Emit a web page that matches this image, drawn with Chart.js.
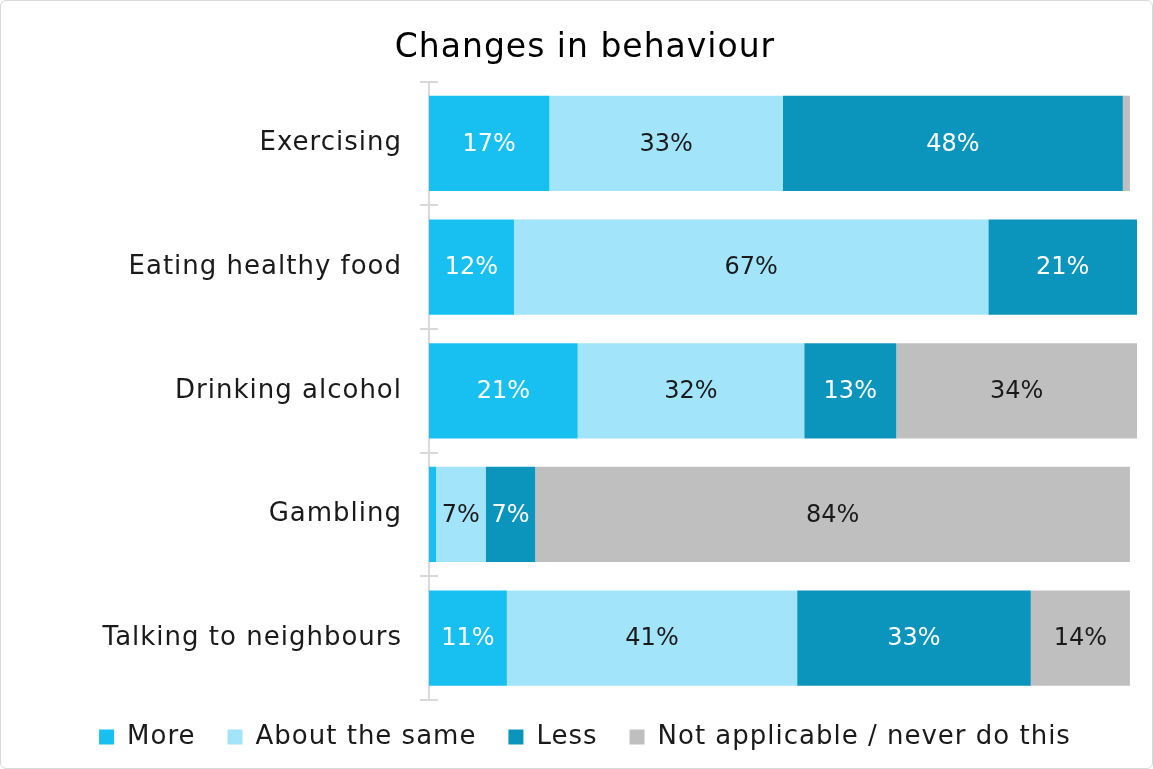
<!DOCTYPE html>
<html>
<head>
<meta charset="utf-8">
<script src="https://cdn.jsdelivr.net/npm/chart.js@4/dist/chart.umd.min.js"></script>
<style>
  html, body { margin: 0; padding: 0; background: #fff; }
  #wrap {
    width: 1151px; height: 767px;
    border: 1px solid #d9d9d9; border-radius: 6px;
    position: relative; overflow: hidden;
  }
</style>
</head>
<body>
<div id="wrap"><canvas id="chart"></canvas></div>
<script>
// categories and series (percent)
var categories   = ['Exercising', 'Eating healthy food', 'Drinking alcohol', 'Gambling', 'Talking to neighbours'];
var seriesNames  = ['More', 'About the same', 'Less', 'Not applicable / never do this'];
var moreVals     = [17, 12, 21, 1, 11];
var sameVals     = [33, 67, 32, 7, 41];
var lessVals     = [48, 21, 13, 7, 33];
var naVals       = [1, 0.2, 34, 84, 14];

var COLORS = {
  more: '#17c0f1',
  same: '#a2e5fa',
  less: '#0b94bc',
  na:   '#bfbfbf',
  axis: '#d9d9d9',
  text: '#1a1a1a'
};
var FONT = 'DejaVu Sans, sans-serif';
var LEGEND_PAD = 32;

// wider text, closer to the original typeface
var spacing = {
  id: 'spacing',
  beforeInit: function(chart) { chart.ctx.letterSpacing = '1px'; },
  afterInit: function(chart) {
    // keep the legend short even with wide horizontal padding
    var lg = chart.legend;
    var fit = lg.fit;
    lg.fit = function() { fit.apply(this, arguments); this.height = 58; };
  },
  beforeUpdate: function(chart) { chart.ctx.letterSpacing = '1px'; },
  beforeDraw: function(chart) {
    chart.ctx.letterSpacing = '1px';
    var lg = chart.legend;
    lg.top = chart.chartArea.bottom + 24 - LEGEND_PAD;
  }
};

// draws the % inside each segment
var barLabels = {
  id: 'barLabels',
  afterDatasetsDraw: function(chart) {
    var ctx = chart.ctx;
    ctx.save();
    ctx.letterSpacing = '0px';
    ctx.font = '24px ' + FONT;
    ctx.textAlign = 'center';
    ctx.textBaseline = 'middle';
    chart.data.datasets.forEach(function(ds, di) {
      var meta = chart.getDatasetMeta(di);
      meta.data.forEach(function(bar, i) {
        var v = ds.data[i];
        if (v < 5) return;
        var x = (bar.x + bar.base) / 2;
        ctx.fillStyle = ds.labelColor;
        ctx.fillText(Math.round(v) + '%', x, bar.y + 1);
      });
    });
    ctx.restore();
  }
};

// small tick stubs to the right of the axis line
var axisStubs = {
  id: 'axisStubs',
  afterDraw: function(chart) {
    var y = chart.scales.y, ctx = chart.ctx;
    var n = categories.length;
    var band = (y.bottom - y.top) / n;
    ctx.save();
    ctx.strokeStyle = COLORS.axis;
    ctx.lineWidth = 2;
    for (var i = 0; i <= n; i++) {
      var py = Math.round(y.top + band * i);
      ctx.beginPath();
      ctx.moveTo(y.right, py);
      ctx.lineTo(y.right + 9, py);
      ctx.stroke();
    }
    ctx.restore();
  }
};

new Chart(document.getElementById('chart'), {
  type: 'bar',
  data: {
    labels: categories,
    datasets: [
      { label: seriesNames[0], data: moreVals, backgroundColor: COLORS.more, labelColor: '#ffffff' },
      { label: seriesNames[1], data: sameVals, backgroundColor: COLORS.same, labelColor: COLORS.text },
      { label: seriesNames[2], data: lessVals, backgroundColor: COLORS.less, labelColor: '#ffffff' },
      { label: seriesNames[3], data: naVals,   backgroundColor: COLORS.na,   labelColor: COLORS.text }
    ]
  },
  options: {
    indexAxis: 'y',
    responsive: true,
    maintainAspectRatio: false,
    animation: false,
    datasets: { bar: { categoryPercentage: 0.77, barPercentage: 1.0, borderWidth: 0 } },
    layout: { padding: { top: 6, right: 15, bottom: 10, left: 32 } },
    plugins: {
      title: {
        display: true,
        text: 'Changes in behaviour',
        color: '#000',
        font: { family: FONT, size: 33, weight: 'normal' },
        padding: { top: 22, bottom: 13 }
      },
      legend: {
        position: 'bottom',
        labels: {
          color: COLORS.text,
          font: { family: FONT, size: 26 },
          boxWidth: 15, boxHeight: 15,
          padding: LEGEND_PAD
        }
      },
      tooltip: { enabled: false }
    },
    scales: {
      x: {
        stacked: true, display: false, min: 0, max: 100
      },
      y: {
        stacked: true,
        afterFit: function(scale) { scale.width = 396; },
        border: { color: COLORS.axis, width: 2 },
        grid: {
          offset: true, drawOnChartArea: false, drawTicks: true,
          tickLength: 9, color: COLORS.axis, lineWidth: 2
        },
        ticks: {
          color: COLORS.text,
          font: { family: FONT, size: 26 },
          padding: 18
        }
      }
    }
  },
  plugins: [spacing, barLabels, axisStubs]
});
</script>
</body>
</html>
